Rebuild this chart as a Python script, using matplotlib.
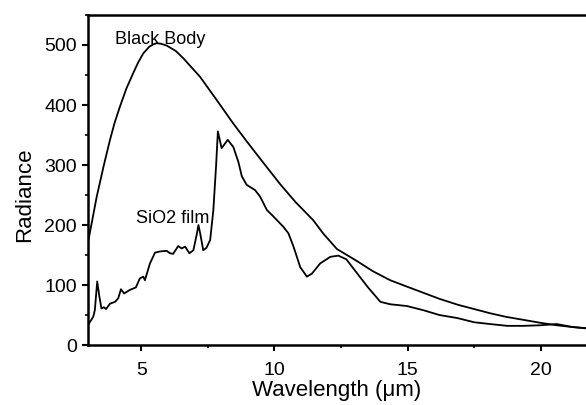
from matplotlib import pyplot as plt
from matplotlib.ticker import MultipleLocator

plt.rcParams['font.family'] = ['Liberation Sans', 'DejaVu Sans']

# black body curve
bb_wl = [3.0, 3.15, 3.33, 3.6, 3.83, 4.0, 4.2, 4.45, 4.7, 4.9, 5.08, 5.3,
         5.45, 5.58, 5.75, 5.96, 6.3, 6.58, 7.21, 7.84, 8.46, 8.97, 9.6,
         10.22, 10.8, 11.46, 11.85, 12.35, 13.1, 13.7, 14.35, 15.0, 15.6,
         16.2, 16.9, 17.5, 18.1, 18.7, 19.35, 20.0, 20.6, 21.2, 21.7]
bb_rad = [170, 205, 247, 300, 342, 370, 397, 428, 453, 472, 486, 497,
          501, 503, 502, 499, 490, 478, 447, 408, 369, 339, 303,
          268, 238, 208, 185, 160, 140, 123, 108, 97, 87,
          77, 67, 60, 53, 47, 42, 37, 33, 30, 28]

# SiO2 film spectrum
film_wl = [3.0, 3.2, 3.26, 3.35, 3.43, 3.51, 3.6, 3.68, 3.83, 4.02, 4.14, 4.24,
           4.36, 4.58, 4.8, 4.95, 5.08, 5.14, 5.33, 5.52, 5.71, 5.96, 6.08,
           6.2, 6.39, 6.52, 6.65, 6.81, 6.96, 7.08, 7.15, 7.22, 7.33, 7.45,
           7.59, 7.71, 7.81, 7.88, 8.02, 8.25, 8.46, 8.65, 8.78, 8.96, 9.28,
           9.47, 9.72, 9.97, 10.34, 10.53, 10.72, 10.97, 11.22, 11.41, 11.72,
           12.1, 12.4, 12.7, 13.1, 13.5, 13.98, 14.35, 14.98, 15.6, 16.2,
           16.87, 17.5, 18.1, 18.75, 19.35, 20.0, 20.6, 21.2, 21.7]
film_rad = [33, 47, 58, 106, 81, 61, 63, 60, 69, 72, 78, 93,
            86, 92, 96, 111, 114, 108, 136, 154, 156, 157, 153,
            152, 165, 161, 164, 153, 158, 183, 200, 185, 158, 162,
            175, 225, 297, 356, 328, 342, 330, 305, 281, 267, 258,
            247, 225, 214, 197, 186, 164, 130, 114, 119, 136,
            147, 149, 143, 120, 97, 72, 68, 65, 58, 50,
            45, 38, 35, 32, 32, 33, 35, 30, 28]

fig = plt.figure(figsize=(5.86, 4.05), dpi=100)
ax = fig.add_axes([0.150, 0.148, 0.85, 0.815])

ax.plot(bb_wl, bb_rad, '-', color='black', lw=1.3)
ax.plot(film_wl, film_rad, '-', color='black', lw=1.3)

ax.text(4.02, 502, 'Black Body', fontsize=13)
ax.text(4.8, 203, 'SiO2 film', fontsize=13)

ax.set_xlim(3, 21.7)
ax.set_ylim(0, 550)
ax.set_xticks([5, 10, 15, 20])
ax.set_yticks([0, 100, 200, 300, 400, 500])
ax.xaxis.set_minor_locator(MultipleLocator(2.5))
ax.yaxis.set_minor_locator(MultipleLocator(50))
ax.tick_params(which='major', direction='out', length=4, width=1.5, labelsize=14)
ax.tick_params(axis='x', which='major', pad=8)
ax.tick_params(axis='y', which='major', pad=4)
ax.tick_params(which='minor', direction='out', length=2, width=1.2)
ax.spines['right'].set_visible(False)
for s in ['left', 'bottom', 'top']:
    ax.spines[s].set_linewidth(1.8)

ax.set_xlabel('Wavelength (\u03bcm)', fontsize=16, labelpad=1)
ax.set_ylabel('Radiance', fontsize=16)
ax.yaxis.set_label_coords(-0.105, 0.455)

fig.savefig('out.png', dpi=100)
